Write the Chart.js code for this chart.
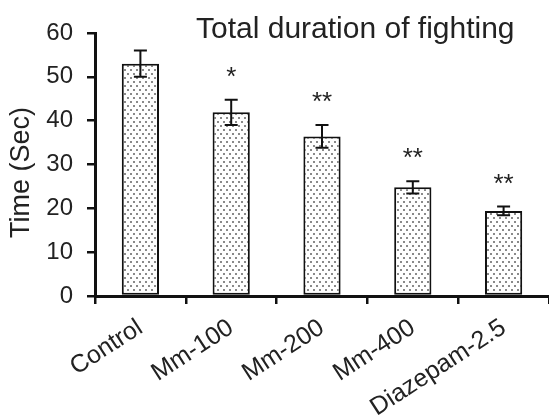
<!DOCTYPE html>
<html>
<head>
<meta charset="utf-8">
<script src="https://cdn.jsdelivr.net/npm/chart.js@4/dist/chart.umd.min.js"></script>
<style>
  html, body { margin: 0; padding: 0; background: #fff; }
  #wrap { width: 549px; height: 417px; position: relative; }
</style>
</head>
<body>
<div id="wrap"><canvas id="chart" width="549" height="417"></canvas></div>
<script>
// Groups and measured fighting time (mean ± SEM, seconds)
const groups = ['Control', 'Mm-100', 'Mm-200', 'Mm-400', 'Diazepam-2.5'];
const meanTime = [53.0, 41.9, 36.4, 24.8, 19.4];
const semTime = [3.0, 2.9, 2.6, 1.4, 1.0];
const significance = ['', '*', '**', '**', '**'];
const yTicks = [0, 10, 20, 30, 40, 50, 60];
const chartTitle = 'Total duration of fighting';
const yTitle = 'Time (Sec)';

const FONT = '"Liberation Sans", Arial, sans-serif';
const TEXT = '#222';

// Stippled fill for the bars
function dotPattern() {
  const c = document.createElement('canvas');
  c.width = 6; c.height = 8;
  const g = c.getContext('2d');
  g.fillStyle = '#fff';
  g.fillRect(0, 0, 6, 8);
  g.fillStyle = '#8a8a8a';
  g.fillRect(1, 1, 2, 2);
  g.fillRect(4, 5, 2, 2);
  return g.createPattern(c, 'repeat');
}

// Error bars with caps, plus significance stars above them
const errorBars = {
  id: 'errorBars',
  afterDatasetsDraw(chart) {
    const { ctx, scales: { x, y } } = chart;
    ctx.save();
    ctx.strokeStyle = '#111';
    ctx.lineWidth = 2;
    meanTime.forEach((m, i) => {
      const px = x.getPixelForValue(i);
      const top = y.getPixelForValue(m + semTime[i]);
      const bot = y.getPixelForValue(m - semTime[i]);
      const cap = 6.5;
      ctx.beginPath();
      ctx.moveTo(px, top); ctx.lineTo(px, bot);
      ctx.moveTo(px - cap, top); ctx.lineTo(px + cap, top);
      ctx.moveTo(px - cap, bot); ctx.lineTo(px + cap, bot);
      ctx.stroke();
      if (significance[i]) {
        ctx.fillStyle = TEXT;
        ctx.font = '26px ' + FONT;
        ctx.textAlign = 'center';
        ctx.textBaseline = 'middle';
        ctx.fillText(significance[i], px, top - 22);
      }
    });
    ctx.restore();
  }
};

// Heading inside the upper right of the plot, and the rotated y-axis title
const labels = {
  id: 'labels',
  afterDraw(chart) {
    const { ctx, chartArea } = chart;
    ctx.save();
    ctx.fillStyle = TEXT;
    ctx.font = '30px ' + FONT;
    ctx.textAlign = 'left';
    ctx.textBaseline = 'alphabetic';
    ctx.fillText(chartTitle, 196, 38);

    ctx.translate(22, (chartArea.top + chartArea.bottom) / 2 + 8);
    ctx.rotate(-Math.PI / 2);
    ctx.font = '27px ' + FONT;
    ctx.textAlign = 'center';
    ctx.textBaseline = 'middle';
    ctx.fillText(yTitle, 0, 0);
    ctx.restore();
  }
};

new Chart(document.getElementById('chart'), {
  type: 'bar',
  data: {
    labels: groups,
    datasets: [{
      data: meanTime,
      backgroundColor: dotPattern(),
      borderColor: '#111',
      borderWidth: 2,
      borderSkipped: false,
      barPercentage: 0.41,
      categoryPercentage: 1.0
    }]
  },
  options: {
    responsive: false,
    animation: false,
    events: [],
    layout: { padding: { top: 33, right: -4, bottom: 0, left: 0 } },
    plugins: {
      legend: { display: false },
      title: { display: false },
      tooltip: { enabled: false }
    },
    scales: {
      x: {
        grid: {
          offset: true,
          drawOnChartArea: false,
          drawTicks: true,
          tickLength: 8,
          color: '#111',
          lineWidth: 2.5
        },
        border: { display: true, color: '#111', width: 3 },
        ticks: {
          color: TEXT,
          font: { family: FONT, size: 25 },
          minRotation: 33,
          maxRotation: 33,
          padding: 9,
          autoSkip: false
        },
        afterFit(scale) {
          scale.height = 121;
          scale.paddingLeft = 0;
          scale.paddingRight = 0;
        }
      },
      y: {
        min: 0,
        max: 60,
        afterBuildTicks(scale) {
          scale.ticks = yTicks.map(v => ({ value: v }));
        },
        grid: {
          drawOnChartArea: false,
          drawTicks: true,
          tickLength: 8,
          color: '#111',
          lineWidth: 2.5
        },
        border: { display: true, color: '#111', width: 3 },
        ticks: {
          color: TEXT,
          font: { family: FONT, size: 24 },
          padding: 14
        },
        afterFit(scale) {
          scale.width = 95;
        }
      }
    }
  },
  plugins: [errorBars, labels]
});
</script>
</body>
</html>
